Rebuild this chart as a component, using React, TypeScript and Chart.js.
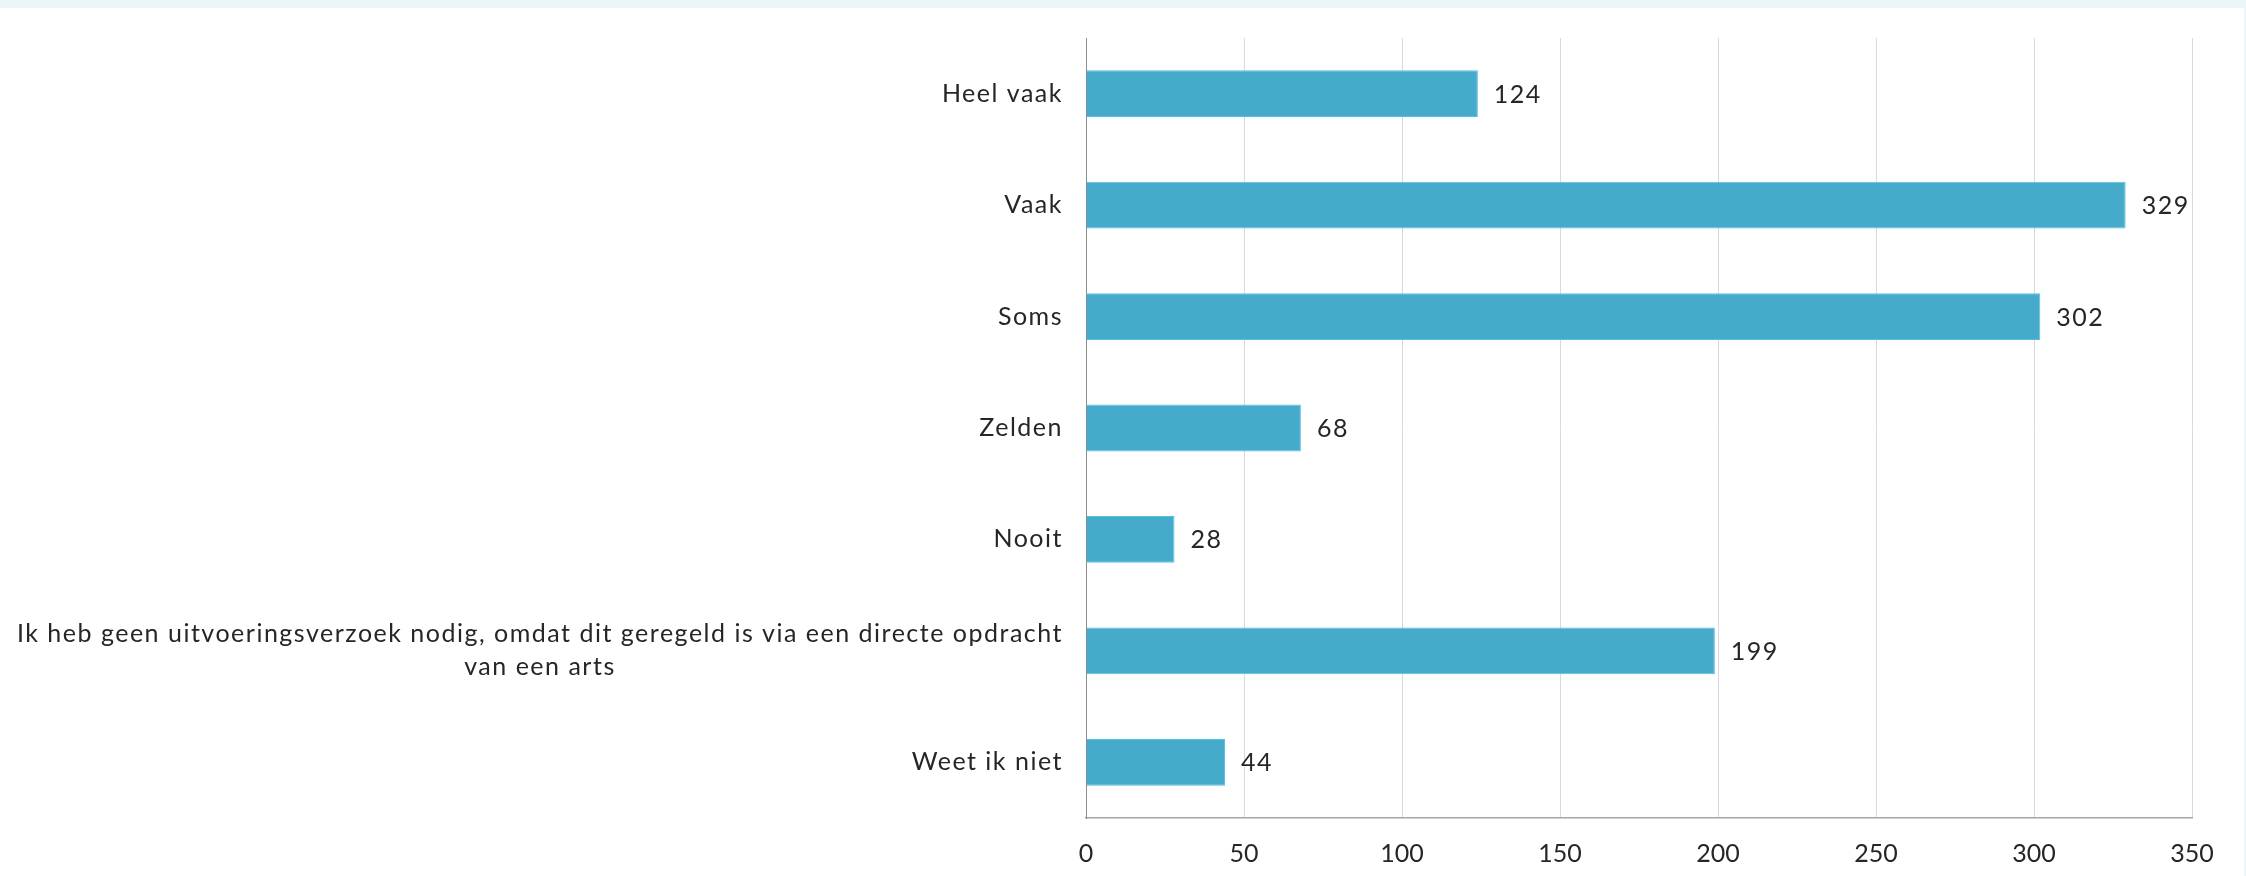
import React, { useEffect, useRef } from "react";
import { Chart, registerables } from "chart.js";

Chart.register(...registerables);

const categories: (string | string[])[] = [
  "Heel vaak",
  "Vaak",
  "Soms",
  "Zelden",
  "Nooit",
  ["Ik heb geen uitvoeringsverzoek nodig, omdat dit geregeld is via een directe opdracht", "van een arts"],
  "Weet ik niet",
];
const values: number[] = [124, 329, 302, 68, 28, 199, 44];
const xMin = 0;
const xMax = 350;
const xStep = 50;

const FONT_FAMILY = "Lato, 'Open Sans', sans-serif";
const FONT_SIZE = 25;
const TEXT_COLOR = "#262626";
const LETTER_SPACING = "1.5px";

const labelPlugin = {
  id: "customLabels",
  afterDraw(chart: any) {
    const { ctx, chartArea } = chart;
    const xScale = chart.scales.x;
    const yScale = chart.scales.y;
    ctx.save();
    ctx.font = `${FONT_SIZE}px ${FONT_FAMILY}`;
    (ctx as any).letterSpacing = LETTER_SPACING;
    ctx.fillStyle = TEXT_COLOR;
    ctx.textBaseline = "middle";
    const lineHeight = 33;
    // category labels
    categories.forEach((cat, i) => {
      const lines = Array.isArray(cat) ? cat : [cat];
      const y = yScale.getPixelForValue(i);
      const w = Math.max(...lines.map((l) => ctx.measureText(l).width));
      const right = chartArea.left - 23;
      const cx = right - w / 2;
      ctx.textAlign = "center";
      lines.forEach((l, k) => {
        ctx.fillText(l, cx, y + (k - (lines.length - 1) / 2) * lineHeight);
      });
    });
    // value labels
    const meta = chart.getDatasetMeta(0);
    values.forEach((v, i) => {
      const bar = meta.data[i];
      const x = xScale.getPixelForValue(v) + 16;
      ctx.textAlign = "left";
      ctx.fillText(String(v), x, bar.y + 1);
    });
    ctx.restore();
  },
};

export default function App() {
  const canvasRef = useRef<HTMLCanvasElement | null>(null);

  useEffect(() => {
    document.body.style.margin = "0";
    const canvas = canvasRef.current;
    if (!canvas) return;
    const chart = new Chart(canvas, {
      type: "bar",
      data: {
        labels: categories.map((c) => (Array.isArray(c) ? c.join(" ") : c)),
        datasets: [
          {
            data: values,
            backgroundColor: "#46AACA",
            borderColor: "#52C0E6",
            borderWidth: { top: 1, bottom: 1, right: 1, left: 0 },
            borderSkipped: false,
            categoryPercentage: 1,
            barPercentage: 0.42,
          },
        ],
      },
      options: {
        indexAxis: "y",
        responsive: false,
        devicePixelRatio: 1,
        animation: false,
        layout: { padding: { left: 0, right: 52, top: 30, bottom: 0 } },
        plugins: {
          legend: { display: false },
          tooltip: { enabled: false },
          title: { display: false },
        },
        scales: {
          x: {
            type: "linear",
            min: xMin,
            max: xMax,
            ticks: {
              stepSize: xStep,
              color: TEXT_COLOR,
              font: { family: FONT_FAMILY, size: FONT_SIZE },
              padding: 21,
            },
            grid: {
              color: (c: any) => (c.tick && c.tick.value === 0 ? "#8C8C8C" : "#D9D9D9"),
              lineWidth: 1,
              drawTicks: false,
            },
            border: { display: true, color: "#A6A6A6", width: 1.5 },
            afterFit: (scale: any) => {
              scale.height = 58;
            },
          },
          y: {
            type: "category",
            ticks: { display: false },
            grid: { display: false, drawTicks: false },
            border: { display: true, color: "#8C8C8C", width: 1 },
            afterFit: (scale: any) => {
              scale.width = 1086;
            },
          },
        },
      },
      plugins: [labelPlugin],
    });
    return () => chart.destroy();
  }, []);

  return (
    <div
      style={{
        position: "fixed",
        left: 0,
        top: 0,
        width: 2246,
        height: 876,
        background: "#EAF6F7",
      }}
    >
      <div
        style={{
          position: "absolute",
          left: 0,
          top: 8,
          width: 2244,
          height: 868,
          background: "#FFFFFF",
        }}
      >
        <canvas ref={canvasRef} width={2244} height={868} style={{ display: "block" }} />
      </div>
    </div>
  );
}
